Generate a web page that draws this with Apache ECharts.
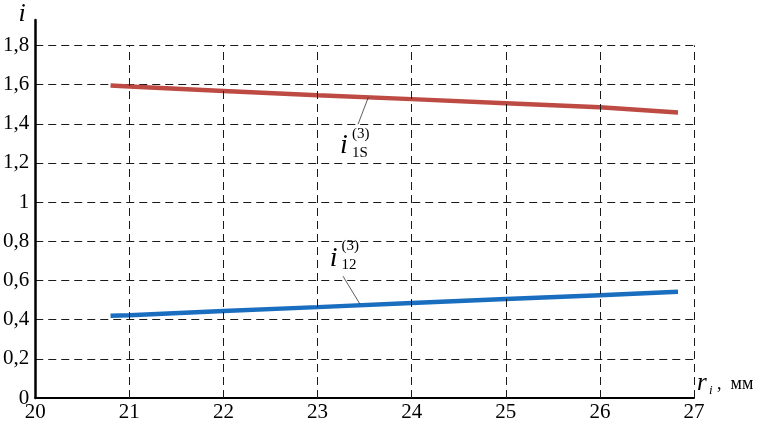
<!DOCTYPE html>
<html>
<head>
<meta charset="utf-8">
<script src="https://cdn.jsdelivr.net/npm/echarts@6/dist/echarts.min.js"></script>
<style>
  html, body { margin: 0; padding: 0; background: #fff; }
  #chart { width: 760px; height: 426px; }
</style>
</head>
<body>
<div id="chart"></div>
<script>
// data
const rValues = [20.8, 21, 22, 23, 24, 25, 26, 26.83]
const i1S = [1.595, 1.59, 1.568, 1.546, 1.526, 1.505, 1.484, 1.458]
const i12 = [0.42, 0.423, 0.444, 0.464, 0.485, 0.505, 0.525, 0.542]
const yTicks = [0, 0.2, 0.4, 0.6, 0.8, 1, 1.2, 1.4, 1.6, 1.8]
const xTicks = [20, 21, 22, 23, 24, 25, 26, 27]

// annotation anchors (data space)
const label1S = { at: [23.28, 1.286], lead: [[23.54, 1.536], [23.43, 1.398]], sub: '1S' }
const label12 = { at: [23.17, 0.714], lead: [[23.45, 0.48], [23.27, 0.622]], sub: '12' }

const serif = 'Liberation Serif'
const gridDash = { color: '#1a1a1a', width: 1, type: [8, 5] }
const yTop = yTicks[yTicks.length - 1]

const chart = echarts.init(document.getElementById('chart'))

function leader(lab) {
  return {
    silent: true,
    symbol: 'none',
    label: { show: false },
    lineStyle: { color: '#333', width: 0.8, type: 'solid' },
    data: [[{ coord: lab.lead[0] }, { coord: lab.lead[1] }]]
  }
}

chart.setOption({
  animation: false,
  textStyle: { fontFamily: serif, fontSize: 21, color: '#000' },
  grid: { left: 33.6, right: 66, top: 20, bottom: 28 },
  xAxis: {
    type: 'value',
    min: 20,
    max: 27,
    interval: 1,
    axisLine: { show: true, onZero: false, lineStyle: { color: '#000', width: 2 } },
    axisTick: { show: false },
    axisLabel: { margin: 4, fontFamily: serif, fontSize: 21, color: '#000' },
    splitLine: { show: false }
  },
  yAxis: {
    type: 'value',
    min: 0,
    max: 1.93,
    interval: 0.2,
    axisLine: { show: true, lineStyle: { color: '#000', width: 2.5 } },
    axisTick: { show: false },
    axisLabel: {
      margin: 6,
      fontFamily: serif,
      fontSize: 21,
      color: '#000',
      formatter: v => {
        const t = yTicks.find(t => Math.abs(t - v) < 1e-6)
        return t === undefined ? '' : String(t).replace('.', ',')
      }
    },
    splitLine: { show: true, showMinLine: false, showMaxLine: false, lineStyle: gridDash }
  },
  series: [
    {
      // vertical grid lines, stopping at the 1,8 line
      type: 'line',
      data: [],
      markLine: {
        silent: true,
        symbol: 'none',
        label: { show: false },
        lineStyle: gridDash,
        data: xTicks.slice(1).map(x => [{ coord: [x, 0] }, { coord: [x, yTop] }])
      }
    },
    {
      type: 'line',
      data: rValues.map((r, k) => [r, i1S[k]]),
      symbol: 'none',
      lineStyle: { color: '#bd4b43', width: 4.5 },
      markLine: leader(label1S)
    },
    {
      type: 'line',
      data: rValues.map((r, k) => [r, i12[k]]),
      symbol: 'none',
      lineStyle: { color: '#1a6ebf', width: 4.5 },
      markLine: leader(label12)
    }
  ]
})

function labelText(lab) {
  const p = chart.convertToPixel({ gridIndex: 0 }, lab.at)
  return [
    { type: 'text', x: p[0], y: p[1], style: { text: 'i', font: 'italic 28px "Liberation Serif"', fill: '#000', align: 'center', verticalAlign: 'middle' } },
    { type: 'text', x: p[0] + 8, y: p[1] - 12, style: { text: '(3)', font: '15px "Liberation Serif"', fill: '#000', align: 'left', verticalAlign: 'middle' } },
    { type: 'text', x: p[0] + 8, y: p[1] + 7, style: { text: lab.sub, font: '15px "Liberation Serif"', fill: '#000', align: 'left', verticalAlign: 'middle' } }
  ]
}

chart.setOption({
  graphic: [
    { type: 'text', x: 22, y: 14, style: { text: 'i', font: 'italic 26px "Liberation Serif"', fill: '#000', align: 'center', verticalAlign: 'middle' } },
    { type: 'text', x: 697, y: 383, style: { text: 'r', font: 'italic 25px "Liberation Serif"', fill: '#000', align: 'left', verticalAlign: 'middle' } },
    { type: 'text', x: 709, y: 391, style: { text: 'i', font: 'italic 13px "Liberation Serif"', fill: '#000', align: 'left', verticalAlign: 'middle' } },
    { type: 'text', x: 717, y: 384, style: { text: ',  мм', font: '18px "Liberation Serif"', fill: '#000', align: 'left', verticalAlign: 'middle' } }
  ].concat(labelText(label1S), labelText(label12))
})
</script>
</body>
</html>
